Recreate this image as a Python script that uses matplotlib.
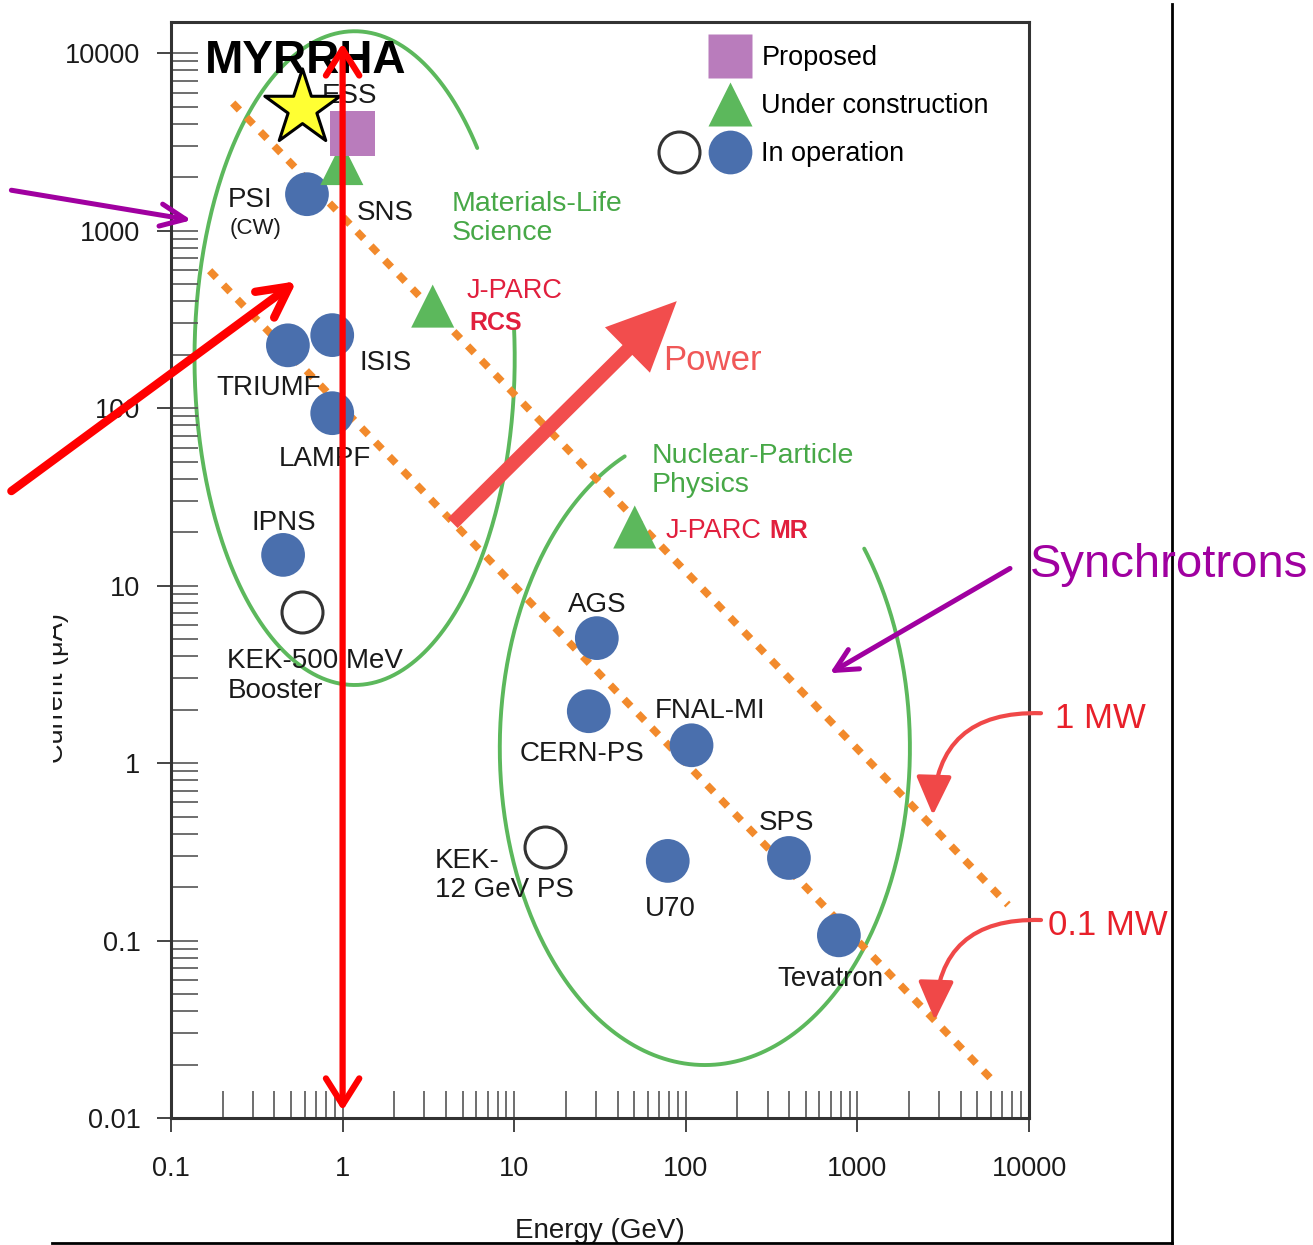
import numpy as np
import matplotlib
matplotlib.use("Agg")
import matplotlib.pyplot as plt
from matplotlib.lines import Line2D
from matplotlib.legend_handler import HandlerTuple
from matplotlib.ticker import LogLocator, NullFormatter
from matplotlib.transforms import Bbox

plt.rcParams['font.family'] = ['Liberation Sans', 'DejaVu Sans']

# beam energy [GeV] and average current [uA]
op_names = ["PSI", "TRIUMF", "ISIS", "LAMPF", "IPNS", "AGS", "CERN-PS", "FNAL-MI", "U70", "SPS", "Tevatron"]
op_energy = [0.62, 0.48, 0.87, 0.87, 0.45, 30.3, 27.2, 108, 78.5, 399, 780]
op_current = [1606, 226, 258, 93.7, 14.9, 5.06, 1.96, 1.26, 0.281, 0.292, 0.107]

# in operation, drawn as open circles
open_names = ["KEK-500 MeV Booster", "KEK-12 GeV PS"]
open_energy = [0.577, 15.1]
open_current = [7.09, 0.336]

uc_names = ["SNS", "J-PARC RCS", "J-PARC MR"]
uc_energy = [0.99, 3.35, 50.4]
uc_current = [2390, 376, 21.4]

prop_names = ["ESS"]
prop_energy = [1.14]
prop_current = [3540]

myrrha_energy = [0.58]
myrrha_current = [4900]

# lines of constant beam power, E*I in kW
power_levels = [1200, 100]
power_e_start = [0.229, 0.168]
power_e_end = [7550, 5950]

x_ticks = [0.1, 1, 10, 100, 1000, 10000]
x_ticklabels = ["0.1", "1", "10", "100", "1000", "10000"]
y_ticks = [0.01, 0.1, 1, 10, 100, 1000, 10000]
y_ticklabels = ["0.01", "0.1", "1", "10", "100", "1000", "10000"]

BLUE = "#4A6FAD"
GREEN = "#5CB85C"
GREEN_TXT = "#47A847"
PURPLE_SQ = "#B97CBC"
ORANGE = "#F28A2C"
CRIMSON = "#E11F3D"
SALMON = "#F24D4D"
MAGENTA = "#A000A0"
INK = "#1a1a1a"

W, H = 1313, 1245
fig = plt.figure(figsize=(W / 100, H / 100), dpi=100)
ax = fig.add_axes([171 / W, 1 - 1118 / H, 858 / W, 1096 / H])
ax.set_xscale("log")
ax.set_yscale("log")
ax.set_xlim(0.1, 10000)
ax.set_ylim(0.01, 15000)

ax.set_xticks(x_ticks)
ax.set_xticklabels(x_ticklabels)
ax.set_yticks(y_ticks)
ax.set_yticklabels(y_ticklabels)
for axis in (ax.xaxis, ax.yaxis):
    axis.set_minor_locator(LogLocator(base=10, subs=np.arange(1, 10), numticks=30))
    axis.set_minor_formatter(NullFormatter())
    axis.remove_overlapping_locs = False
ax.tick_params(which="major", direction="out", length=10, width=1.4, color="#444",
               labelsize=19.5, labelcolor=INK)
ax.tick_params(axis="x", which="major", pad=17)
ax.tick_params(axis="y", which="major", pad=12)
ax.tick_params(which="minor", direction="in", length=19.5, width=1.2, color="#555")
for sp in ax.spines.values():
    sp.set_color("#333")
    sp.set_linewidth(2.2)

ax.set_xlabel("Energy (GeV)", fontsize=20, color=INK)
ax.xaxis.set_label_coords(0.5, -0.1035)
ax.xaxis.label.set_va("center")

# y label is cut off at the left edge in the source image
ylab = fig.text(56 / W, 1 - 688 / H, "Current (μA)", rotation=90, fontsize=19.5,
                color=INK, ha="center", va="center")
ylab.set_clip_box(Bbox.from_extents(53, 0, 200, H))


def region(cx, cy, a, b, t0, t1):
    t = np.radians(np.linspace(t0, t1, 400))
    ax.plot(10 ** (cx + a * np.cos(t)), 10 ** (cy + b * np.sin(t)),
            color=GREEN, lw=2.8, zorder=1, solid_capstyle="round")


def label(txt, e, i, **kw):
    style = dict(fontsize=20, color=INK, ha="left", va="center", zorder=5)
    style.update(kw)
    ax.annotate(txt, (e, i), xytext=(0, -5), textcoords="offset pixels",
                annotation_clip=False, **style)


region(0.07, 2.282, 0.933, 1.842, 40, 365)
region(2.111, 0.0845, 1.195, 1.786, 113, 399)

for p, e0, e1 in zip(power_levels, power_e_start, power_e_end):
    e = np.logspace(np.log10(e0), np.log10(e1), 100)
    ax.plot(e, p / e, color=ORANGE, lw=5.3, ls=(0, (1.3, 1.4)), zorder=2)

ax.scatter(op_energy, op_current, s=31.5 ** 2, color=BLUE, edgecolors="none", zorder=4)
ax.scatter(open_energy, open_current, s=29.5 ** 2, facecolors="white", edgecolors="#333",
           linewidths=2.2, zorder=4)
ax.scatter(uc_energy, uc_current, marker="^", s=31 ** 2, color=GREEN, edgecolors="none", zorder=4)
ax.scatter(prop_energy, prop_current, marker="s", s=32 ** 2, color=PURPLE_SQ, edgecolors="none", zorder=4)

# labels
black_labels = [
    ("ESS", 0.755, 6110), ("PSI", 0.213, 1585), ("SNS", 1.21, 1340), ("ISIS", 1.26, 191),
    ("TRIUMF", 0.184, 138), ("LAMPF", 0.424, 55), ("IPNS", 0.295, 24),
    ("KEK-500 MeV", 0.213, 4.0), ("Booster", 0.213, 2.72),
    ("AGS", 20.5, 8.28), ("FNAL-MI", 65.9, 2.1), ("CERN-PS", 10.8, 1.2),
    ("KEK-", 3.44, 0.299), ("12 GeV PS", 3.44, 0.2055), ("U70", 57.7, 0.1606),
    ("SPS", 266.5, 0.49), ("Tevatron", 344, 0.0648),
]
for txt, e, i in black_labels:
    label(txt, e, i)
label("(CW)", 0.219, 1100, fontsize=16)

for txt, e, i in [("Materials-Life", 4.32, 1504), ("Science", 4.32, 1033),
                  ("Nuclear-Particle", 63.4, 57.3), ("Physics", 63.4, 39.3)]:
    label(txt, e, i, fontsize=20.5, color=GREEN_TXT)

label("J-PARC", 5.28, 487, fontsize=19.5, color=CRIMSON)
label("RCS", 5.5, 321, fontsize=18, color=CRIMSON, fontweight="bold")
label("J-PARC", 76.4, 21.6, fontsize=19.5, color=CRIMSON)
label("MR", 305, 21.6, fontsize=18, color=CRIMSON, fontweight="bold")

ax.annotate("", xy=(88.6, 401), xytext=(4.38, 22.5), zorder=3,
            arrowprops=dict(arrowstyle="simple,head_length=50,head_width=46,tail_width=10",
                            mutation_scale=1, fc=SALMON, ec="none", shrinkA=0, shrinkB=0))
label("Power", 73.4, 199, fontsize=25, color="#F05858")

# power line tags with curved arrows
for txt, tx, ty, ax0, ay0, tipx, tipy in [("1 MW", 14190, 1.91, 11750, 1.91, 2755, 0.509),
                                          ("0.1 MW", 12900, 0.130, 11750, 0.1305, 2830, 0.0356)]:
    label(txt, tx, ty, fontsize=25, color="#E8202A", zorder=6)
    ax.annotate("", xy=(tipx, tipy), xytext=(ax0, ay0), annotation_clip=False, zorder=6,
                arrowprops=dict(arrowstyle="-|>,head_length=24,head_width=11", mutation_scale=1,
                                connectionstyle="arc3,rad=0.5", color="#F04848", lw=3,
                                shrinkA=0, shrinkB=0))

# legend
blank = Line2D([], [], ls="none")
h_prop = Line2D([], [], ls="none", marker="s", ms=32, mfc=PURPLE_SQ, mec="none")
h_uc = Line2D([], [], ls="none", marker="^", ms=31, mfc=GREEN, mec="none")
h_open = Line2D([], [], ls="none", marker="o", ms=29.5, mfc="white", mec="#333", mew=2.2)
h_op = Line2D([], [], ls="none", marker="o", ms=31.5, mfc=BLUE, mec="none")
ax.legend([(blank, h_prop), (blank, h_uc), (h_open, h_op)],
          ["Proposed", "Under construction", "In operation"],
          handler_map={tuple: HandlerTuple(ndivide=None, pad=0)},
          loc="upper left", bbox_to_anchor=((653 - 171) / 858, (1118 - 45) / 1096),
          frameon=False, fontsize=19.5, handlelength=3.8, handletextpad=0.2,
          labelspacing=0.82, borderpad=0, borderaxespad=0)

# MYRRHA overlay
ax.scatter(myrrha_energy, myrrha_current, marker="*", s=57 ** 2, facecolors="#FFFF33",
           edgecolors="black", linewidths=2.2, zorder=6)
label("MYRRHA", 0.157, 9700, fontsize=33, fontweight="bold", color="black", zorder=7)

ax.annotate("", xy=(1, 11380), xytext=(1, 0.011), zorder=8,
            arrowprops=dict(arrowstyle="<->,head_length=19,head_width=12", mutation_scale=1,
                            color="#FF0000", lw=4.5, shrinkA=0, shrinkB=0))
ax.annotate("", xy=(0.539, 519), xytext=(0.01174, 34.1), annotation_clip=False, zorder=8,
            arrowprops=dict(arrowstyle="->,head_length=22,head_width=11.5", mutation_scale=1,
                            color="#FF0000", lw=6, shrinkA=0, shrinkB=0))
ax.annotate("", xy=(0.1318, 1146), xytext=(0.01174, 1691), annotation_clip=False, zorder=8,
            arrowprops=dict(arrowstyle="->,head_length=18,head_width=8", mutation_scale=1,
                            color=MAGENTA, lw=3.6, shrinkA=0, shrinkB=0))
ax.annotate("", xy=(691, 3.21), xytext=(7750, 12.5), annotation_clip=False, zorder=8,
            arrowprops=dict(arrowstyle="->,head_length=16,head_width=8", mutation_scale=1,
                            color=MAGENTA, lw=3.6, shrinkA=0, shrinkB=0))
fig.text(1030 / W, 1 - 565 / H, "Synchrotrons", fontsize=34, color=MAGENTA,
         ha="left", va="center", zorder=10)

# slide frame lines
fig.add_artist(Line2D([1172 / W, 1172 / W], [1 - 4 / H, 1 - 1243 / H], color="black", lw=2))
fig.add_artist(Line2D([52 / W, 1172 / W], [1 - 1243 / H, 1 - 1243 / H], color="black", lw=2))

fig.savefig("out.png", dpi=100)
